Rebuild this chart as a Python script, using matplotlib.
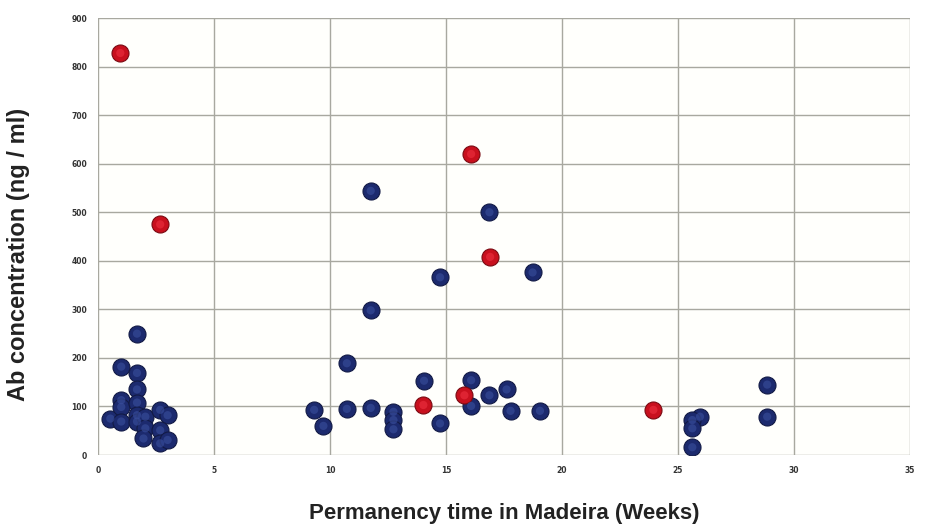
import matplotlib.pyplot as plt

# weeks in Madeira vs antibody concentration
blue_x = [0.52, 0.99, 0.99, 0.99, 0.99, 1.67, 1.67, 1.67, 1.67, 1.67, 1.67,
          2.03, 2.03, 1.95, 2.67, 2.99, 2.67, 2.67, 2.99,
          9.31, 9.71, 10.72, 10.72, 11.75, 11.75, 11.75,
          16.87, 18.73, 14.74, 14.05, 16.08, 17.61, 16.87, 16.08,
          12.73, 12.73, 12.73, 14.74, 17.78, 19.05,
          25.95, 25.62, 25.62, 25.62, 28.85, 28.85]
blue_y = [75, 182, 113, 99, 69, 250, 169, 135, 108, 82, 69,
          79, 55, 34, 93, 82, 51, 24, 31,
          93, 60, 189, 95, 298, 97, 544,
          500, 376, 366, 153, 154, 135, 123, 101,
          89, 72, 53, 65, 91, 91,
          79, 72, 55, 16, 145, 79]

red_x = [0.95, 2.67, 16.08, 16.9, 14.02, 15.79, 23.94]
red_y = [828, 475, 620, 408, 103, 123, 93]

fig = plt.figure(figsize=(9.36, 5.30), dpi=100)
ax = fig.add_axes([0.105, 0.1415, 0.867, 0.8245])
ax.set_facecolor("#fffffc")

ax.scatter(blue_x, blue_y, s=150, color="#1c2a6e", edgecolor="#121a45",
           linewidth=0.8, zorder=3)
ax.scatter(blue_x, blue_y, s=35, color="#3a4f9e", edgecolor="none",
           alpha=0.6, zorder=4)
ax.scatter(red_x, red_y, s=150, color="#c8101e", edgecolor="#7a0a12",
           linewidth=0.8, zorder=3)
ax.scatter(red_x, red_y, s=35, color="#ee3040", edgecolor="none",
           alpha=0.6, zorder=4)

ax.set_xlim(0, 35)
ax.set_ylim(0, 900)
ax.set_xticks(range(0, 36, 5))
ax.set_yticks(range(0, 901, 100))
ax.grid(True, color="#a8a8a0", linewidth=1.0)
ax.set_axisbelow(True)
for s in ax.spines.values():
    s.set_visible(False)
ax.tick_params(length=0, labelsize=5.5, pad=8)
for lbl in ax.get_xticklabels() + ax.get_yticklabels():
    lbl.set_fontweight("bold")
    lbl.set_color("#333333")

ax.set_xlabel("Permanency time in Madeira (Weeks)", fontsize=16,
              fontweight="bold", color="#222222", labelpad=20,
              family="Liberation Sans")
ax.set_ylabel("Ab concentration (ng / ml)", fontsize=17, fontweight="bold",
              color="#222222", family="Liberation Sans")
ax.yaxis.set_label_coords(-0.084, 0.46)

plt.savefig("out.png", dpi=100)
